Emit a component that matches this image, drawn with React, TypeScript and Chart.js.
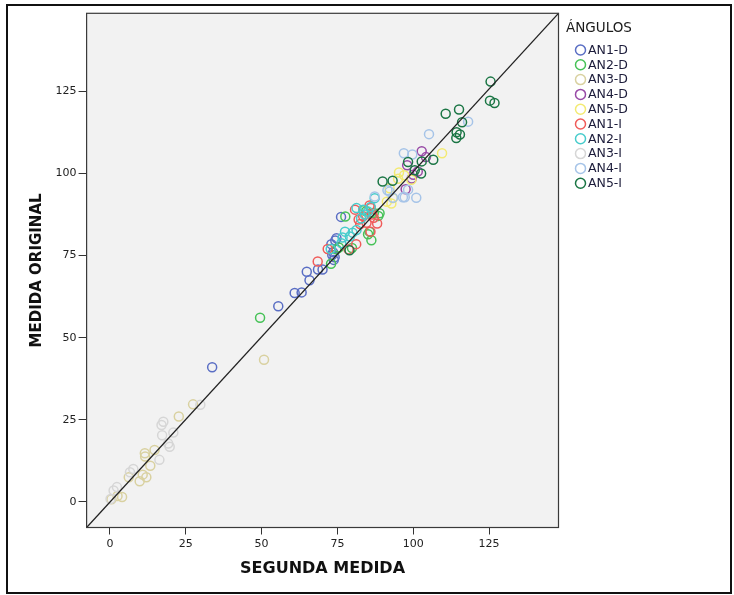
import React, { useEffect, useRef } from "react";
import { Chart, registerables } from "chart.js";

Chart.register(...registerables);

const seriesLabels = ["AN1-D", "AN2-D", "AN3-D", "AN4-D", "AN5-D", "AN1-I", "AN2-I", "AN3-I", "AN4-I", "AN5-I"];
const seriesColors = ["#5a6ec4", "#46c257", "#d9d1a0", "#984aa6", "#f3ea72", "#f05c5a", "#48cccc", "#d6d6d6", "#a6c4e8", "#1b7645"];

const an1d = [[33.7,41.0],[55.5,59.6],[60.9,63.6],[63.2,63.8],[64.9,70.1],[65.8,67.5],[68.6,70.8],[70.1,70.8],[73.8,73.7],[73.3,75.2],[73.0,78.5],[74.3,79.6],[76.2,86.8],[74.7,80.3],[73.6,76.0],[74.1,74.5]];
const an2d = [[49.5,56.1],[77.6,86.9],[72.9,72.5],[74.7,76.9],[79.8,77.3],[86.2,79.7],[85.1,81.5],[88.5,87.1],[83.6,88.8],[88.9,87.9],[85.6,82.3],[75.5,77.5],[84.5,88.5],[87.0,88.0]];
const an3d = [[50.8,43.3],[27.4,29.7],[22.7,26.0],[11.5,14.8],[11.6,13.8],[14.7,15.8],[13.3,11.0],[12.0,7.5],[9.8,6.3],[6.2,7.5],[4.0,1.5],[2.5,1.8],[0.5,0.8],[10.8,8.3]];
const an4d = [[102.8,106.8],[104.2,105.0],[98.0,102.5],[100.0,99.6],[101.5,100.6],[97.5,95.2],[99.5,98.5]];
const an5d = [[109.5,106.2],[92.8,90.9],[91.3,91.4],[95.3,100.3],[95.0,98.4],[99.4,98.1],[92.2,95.5],[93.3,92.5],[97.0,99.5]];
const an1i = [[68.5,73.2],[71.8,77.0],[81.2,78.5],[78.7,76.9],[82.5,84.6],[85.9,82.3],[88.1,84.8],[86.0,89.5],[80.8,89.0],[84.6,85.0],[85.6,90.3],[83.5,87.0],[86.5,87.5],[82.0,86.0],[87.0,86.5]];
const an2i = [[87.3,92.5],[77.5,82.3],[76.7,80.5],[81.3,89.5],[82.8,86.3],[85.1,88.4],[81.3,82.8],[79.1,80.8],[76.3,78.8],[72.8,77.0],[84.0,87.5],[83.5,89.0],[86.0,89.8],[80.0,82.0]];
const an3i = [[29.8,29.6],[17.6,24.4],[17.0,23.4],[17.2,20.3],[20.9,21.1],[19.2,17.8],[16.3,12.8],[7.7,10.0],[6.6,9.0],[2.3,4.5],[1.2,3.5],[0.2,0.9],[19.7,16.8]];
const an4i = [[105.2,112.0],[118.1,115.8],[96.9,106.2],[99.7,105.8],[101.0,92.6],[97.2,92.8],[98.3,95.1],[93.3,92.6],[91.5,94.9],[87.3,93.0],[96.6,92.8],[92.2,94.5]];
const an5i = [[125.5,128.0],[125.3,122.2],[126.8,121.5],[110.7,118.2],[115.1,119.5],[116.1,115.6],[114.3,112.6],[115.4,111.9],[114.2,110.8],[106.6,104.2],[102.8,103.7],[102.6,100.0],[98.3,103.5],[89.9,97.6],[93.2,97.8],[79.0,76.6],[100.5,101.0]];
const seriesData = [an1d, an2d, an3d, an4d, an5d, an1i, an2i, an3i, an4i, an5i];

const tickValues = [0, 25, 50, 75, 100, 125];
const xRange = [-7.7, 147.9];
const yRange = [-7.8, 148.8];
const referenceLine = [[-7.7, -7.8], [147.9, 148.8]];

const legendTitle = "ÁNGULOS";
const xTitle = "SEGUNDA MEDIDA";
const yTitle = "MEDIDA ORIGINAL";

const plotBgPlugin = {
  id: "plotBg",
  beforeDraw(chart: any) {
    const { ctx, chartArea } = chart;
    ctx.save();
    ctx.fillStyle = "#f2f2f2";
    ctx.fillRect(chartArea.left, chartArea.top, chartArea.right - chartArea.left, chartArea.bottom - chartArea.top);
    ctx.restore();
  },
  afterDraw(chart: any) {
    const { ctx, chartArea } = chart;
    ctx.save();
    ctx.strokeStyle = "#3a3a3a";
    ctx.lineWidth = 1.2;
    ctx.strokeRect(chartArea.left, chartArea.top, chartArea.right - chartArea.left, chartArea.bottom - chartArea.top);
    ctx.restore();
  },
};

const legendPlugin = {
  id: "customLegend",
  afterDraw(chart: any) {
    const { ctx } = chart;
    ctx.save();
    ctx.fillStyle = "#1a1a1a";
    ctx.textBaseline = "middle";
    ctx.textAlign = "left";
    ctx.font = "13.5px 'DejaVu Sans'";
    ctx.fillText(legendTitle, 566, 28);
    ctx.font = "12.5px 'DejaVu Sans'";
    seriesLabels.forEach((lab, i) => {
      const y = 50 + i * 14.8;
      ctx.beginPath();
      ctx.arc(580.5, y, 5, 0, Math.PI * 2);
      ctx.strokeStyle = seriesColors[i];
      ctx.lineWidth = 1.5;
      ctx.stroke();
      ctx.fillStyle = "#1c1c3a";
      ctx.fillText(lab, 588, y + 0.5);
    });
    ctx.restore();
  },
};

export default function App() {
  const ref = useRef<HTMLCanvasElement>(null);
  useEffect(() => {
    if (!ref.current) return;
    const datasets: any[] = seriesData.map((pts, i) => ({
      type: "scatter",
      label: seriesLabels[i],
      data: pts.map(([x, y]) => ({ x, y })),
      borderColor: seriesColors[i],
      backgroundColor: "rgba(0,0,0,0)",
      pointRadius: 4.5,
      pointBorderWidth: 1.5,
      pointStyle: "circle",
      order: 10 - i,
    }));
    datasets.push({
      type: "line",
      label: "ref",
      data: referenceLine.map(([x, y]) => ({ x, y })),
      borderColor: "#222",
      borderWidth: 1.2,
      pointRadius: 0,
      order: -1,
    });
    const tickFont = { family: "'DejaVu Sans'", size: 11 };
    const chart = new Chart(ref.current, {
      type: "scatter",
      data: { datasets },
      options: {
        animation: false,
        responsive: false,
        events: [],
        layout: { padding: { left: 0, top: 13.3, right: 175.5, bottom: 0 } },
        plugins: { legend: { display: false }, tooltip: { enabled: false } },
        scales: {
          x: {
            type: "linear",
            min: xRange[0],
            max: xRange[1],
            afterBuildTicks: (s: any) => { s.ticks = tickValues.map((v) => ({ value: v })); },
            afterFit: (s: any) => { s.height = 67.5; },
            grid: { drawOnChartArea: false, drawTicks: true, tickLength: 7, color: "#333", tickWidth: 1 },
            border: { display: true, color: "#3a3a3a" },
            ticks: { font: tickFont, color: "#222", padding: 3, maxRotation: 0 },
            title: { display: true, text: xTitle, color: "#111", font: { family: "'DejaVu Sans'", size: 16, weight: "bold" }, padding: { top: 0, bottom: 16.4 } },
          },
          y: {
            type: "linear",
            min: yRange[0],
            max: yRange[1],
            afterBuildTicks: (s: any) => { s.ticks = tickValues.map((v) => ({ value: v })); },
            afterFit: (s: any) => { s.width = 86.6; },
            grid: { drawOnChartArea: false, drawTicks: true, tickLength: 8, color: "#333", tickWidth: 1 },
            border: { display: true, color: "#3a3a3a" },
            ticks: { font: tickFont, color: "#222", padding: 2 },
            title: { display: true, text: yTitle, color: "#111", font: { family: "'DejaVu Sans'", size: 15, weight: "bold" }, padding: { top: 28, bottom: 0 } },
          },
        },
      } as any,
      plugins: [plotBgPlugin, legendPlugin],
    });
    return () => chart.destroy();
  }, []);
  return (
    <div style={{ position: "fixed", left: 0, top: 0, width: 734, height: 595, background: "#fff" }}>
      <canvas ref={ref} width={734} height={595} style={{ position: "absolute", left: 0, top: 0, width: 734, height: 595 }} />
      <div style={{ position: "absolute", left: 6, top: 4, width: 722, height: 586, border: "2px solid #111", pointerEvents: "none" }} />
    </div>
  );
}
